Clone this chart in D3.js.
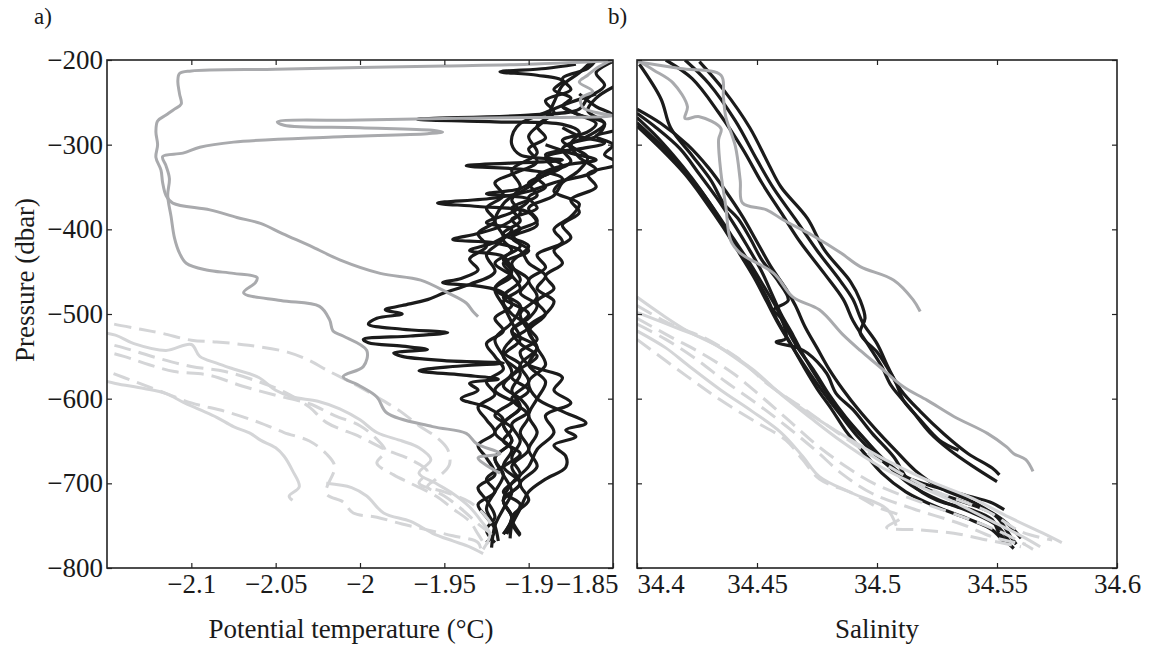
<!DOCTYPE html>
<html><head><meta charset="utf-8">
<script src="https://cdn.jsdelivr.net/npm/d3@7"></script>
<style>
body{margin:0;background:#fff;}
svg{display:block;font-family:"Liberation Serif","Times New Roman",serif;}
</style></head><body>
<svg id="chart" width="1170" height="645"></svg>
<script>
// ---------- tick values ----------
const pressureTicks = [-200,-300,-400,-500,-600,-700,-800];
const tempTicks = [-2.1,-2.05,-2,-1.95,-1.9,-1.85];
const tempTopTicks = [-2.1,-2.05,-2,-1.95,-1.9];
const salTicks = [34.4,34.45,34.5,34.55,34.6];
const salTopTicks = [34.45,34.5,34.55];

// ---------- potential temperature profiles [theta, pressure] ----------
const tempBlack = [
 [[-1.872,-205],[-1.89,-210],[-1.917,-214],[-1.895,-218],[-1.88,-225],[-1.885,-235],[-1.875,-245],[-1.88,-255],[-1.87,-265],[-1.86,-275],[-1.865,-285],[-1.88,-295],[-1.875,-305],[-1.89,-315],[-1.885,-330],[-1.9,-345],[-1.895,-360],[-1.91,-375],[-1.905,-390],[-1.915,-405],[-1.9,-420],[-1.91,-440],[-1.905,-460],[-1.915,-480],[-1.9,-500],[-1.91,-520],[-1.895,-540],[-1.905,-560],[-1.9,-580],[-1.91,-600],[-1.9,-620],[-1.905,-640],[-1.9,-660],[-1.91,-680],[-1.905,-700],[-1.915,-720],[-1.91,-740],[-1.913,-760]],
 [[-1.848,-200],[-1.86,-215],[-1.855,-230],[-1.865,-245],[-1.87,-258],[-1.9,-265],[-1.966,-270],[-1.92,-273],[-1.88,-276],[-1.87,-285],[-1.875,-300],[-1.865,-315],[-1.87,-330],[-1.88,-345],[-1.885,-360],[-1.9,-375],[-1.895,-390],[-1.91,-405],[-1.905,-420],[-1.915,-435],[-1.91,-450],[-1.92,-470],[-1.905,-490],[-1.91,-510],[-1.92,-530],[-1.915,-550],[-1.91,-570],[-1.92,-590],[-1.905,-610],[-1.915,-630],[-1.91,-650],[-1.92,-670],[-1.915,-690],[-1.92,-710],[-1.925,-730],[-1.92,-750],[-1.918,-768]],
 [[-1.86,-240],[-1.875,-250],[-1.89,-262],[-1.905,-275],[-1.909,-285],[-1.91,-300],[-1.905,-312],[-1.88,-318],[-1.937,-325],[-1.9,-330],[-1.88,-340],[-1.885,-355],[-1.87,-370],[-1.875,-385],[-1.885,-400],[-1.88,-415],[-1.895,-430],[-1.89,-445],[-1.9,-460],[-1.895,-480],[-1.905,-500],[-1.9,-520],[-1.895,-540],[-1.89,-560],[-1.9,-580],[-1.895,-600],[-1.88,-615],[-1.866,-629],[-1.878,-637],[-1.872,-645],[-1.885,-655],[-1.878,-668],[-1.878,-681],[-1.89,-695],[-1.9,-710],[-1.905,-730],[-1.91,-750],[-1.911,-765]],
 [[-1.88,-255],[-1.87,-265],[-1.855,-275],[-1.86,-290],[-1.875,-300],[-1.87,-315],[-1.86,-330],[-1.885,-345],[-1.9,-355],[-1.92,-363],[-1.954,-369],[-1.93,-373],[-1.9,-380],[-1.895,-395],[-1.91,-410],[-1.9,-425],[-1.915,-440],[-1.91,-455],[-1.92,-470],[-1.915,-490],[-1.91,-510],[-1.905,-530],[-1.915,-550],[-1.905,-570],[-1.91,-590],[-1.905,-610],[-1.915,-630],[-1.91,-650],[-1.92,-670],[-1.915,-690],[-1.91,-710],[-1.915,-730],[-1.92,-750],[-1.922,-776]],
 [[-1.848,-230],[-1.86,-245],[-1.865,-260],[-1.855,-275],[-1.865,-290],[-1.88,-305],[-1.875,-320],[-1.89,-335],[-1.9,-350],[-1.91,-365],[-1.905,-380],[-1.915,-395],[-1.93,-405],[-1.945,-412],[-1.92,-416],[-1.905,-425],[-1.9,-440],[-1.89,-455],[-1.895,-470],[-1.885,-485],[-1.89,-500],[-1.9,-515],[-1.895,-530],[-1.905,-545],[-1.9,-560],[-1.88,-575],[-1.885,-590],[-1.875,-605],[-1.89,-620],[-1.885,-640],[-1.895,-660],[-1.9,-680],[-1.91,-700],[-1.915,-720],[-1.91,-740],[-1.915,-760]],
 [[-1.86,-200],[-1.865,-210],[-1.88,-222],[-1.875,-235],[-1.89,-248],[-1.885,-262],[-1.895,-278],[-1.89,-292],[-1.9,-305],[-1.895,-320],[-1.91,-335],[-1.92,-345],[-1.915,-360],[-1.925,-375],[-1.92,-390],[-1.93,-405],[-1.925,-420],[-1.935,-435],[-1.93,-448],[-1.94,-458],[-1.951,-463],[-1.93,-467],[-1.915,-475],[-1.91,-490],[-1.92,-505],[-1.915,-520],[-1.925,-535],[-1.92,-550],[-1.915,-565],[-1.925,-580],[-1.92,-595],[-1.93,-610],[-1.925,-625],[-1.92,-640],[-1.93,-655],[-1.925,-670],[-1.92,-690],[-1.93,-705],[-1.925,-720],[-1.92,-740],[-1.925,-755],[-1.92,-770]],
 [[-1.87,-240],[-1.86,-255],[-1.85,-265],[-1.846,-280],[-1.86,-290],[-1.85,-300],[-1.855,-312],[-1.846,-322],[-1.865,-335],[-1.86,-350],[-1.875,-365],[-1.87,-380],[-1.88,-395],[-1.875,-410],[-1.885,-425],[-1.88,-440],[-1.89,-455],[-1.885,-470],[-1.895,-485],[-1.89,-500],[-1.9,-520],[-1.895,-540],[-1.9,-560],[-1.89,-580],[-1.895,-600],[-1.9,-620],[-1.895,-640],[-1.9,-660],[-1.895,-680],[-1.905,-700],[-1.9,-720],[-1.91,-740],[-1.905,-760]],
 [[-1.88,-280],[-1.87,-290],[-1.855,-298],[-1.87,-305],[-1.89,-312],[-1.88,-325],[-1.895,-340],[-1.905,-352],[-1.925,-358],[-1.9,-365],[-1.91,-380],[-1.925,-392],[-1.91,-400],[-1.92,-415],[-1.935,-425],[-1.915,-432],[-1.91,-445],[-1.9,-460],[-1.905,-475],[-1.895,-490],[-1.9,-505],[-1.91,-520],[-1.905,-535],[-1.895,-550],[-1.905,-565],[-1.915,-585],[-1.905,-600],[-1.9,-615],[-1.91,-630],[-1.905,-650],[-1.91,-670],[-1.905,-690],[-1.915,-710],[-1.905,-725],[-1.91,-745],[-1.905,-762]],
 [[-1.89,-300],[-1.875,-310],[-1.86,-318],[-1.88,-325],[-1.895,-338],[-1.89,-350],[-1.9,-362],[-1.895,-375],[-1.91,-388],[-1.905,-400],[-1.915,-412],[-1.91,-425],[-1.92,-440],[-1.91,-455],[-1.905,-470],[-1.915,-485],[-1.91,-500],[-1.9,-515],[-1.91,-530],[-1.915,-545],[-1.905,-560],[-1.91,-575],[-1.9,-590],[-1.91,-605],[-1.92,-620],[-1.91,-635],[-1.915,-650],[-1.905,-665],[-1.915,-680],[-1.925,-695],[-1.92,-710],[-1.93,-725],[-1.925,-740],[-1.92,-755],[-1.925,-770]],
 [[-1.862,-200],[-1.87,-215],[-1.88,-230],[-1.885,-250],[-1.89,-270],[-1.9,-290],[-1.895,-310],[-1.91,-330],[-1.905,-350],[-1.915,-370],[-1.92,-390],[-1.915,-410],[-1.925,-430],[-1.92,-450],[-1.935,-465],[-1.95,-475],[-1.96,-483],[-1.975,-490],[-1.985,-495],[-1.975,-500],[-1.99,-505],[-1.995,-512],[-1.975,-518],[-1.948,-522],[-1.97,-526],[-1.998,-530],[-1.995,-534],[-1.975,-538],[-1.96,-542],[-1.98,-546],[-1.975,-550],[-1.95,-555],[-1.915,-558],[-1.945,-562],[-1.965,-567],[-1.94,-572],[-1.918,-577],[-1.935,-582],[-1.93,-590],[-1.94,-600],[-1.925,-610],[-1.915,-625],[-1.92,-640],[-1.91,-660],[-1.915,-680],[-1.905,-700],[-1.915,-720],[-1.91,-740],[-1.915,-760]]
];
const tempGrey = [
 [[-1.85,-201],[-1.9,-205],[-1.95,-207],[-2.0,-209],[-2.05,-211],[-2.1,-213],[-2.107,-216],[-2.108,-225],[-2.107,-240],[-2.106,-252],[-2.11,-258],[-2.115,-265],[-2.12,-272],[-2.121,-285],[-2.12,-300],[-2.121,-315],[-2.118,-330],[-2.117,-345],[-2.115,-360],[-2.111,-369],[-2.089,-377],[-2.073,-386],[-2.059,-393],[-2.046,-405],[-2.028,-421],[-2.012,-436],[-1.988,-452],[-1.964,-460],[-1.948,-475],[-1.937,-487],[-1.933,-497],[-1.93,-503]],
 [[-1.852,-201],[-1.86,-210],[-1.865,-218],[-1.87,-226],[-1.862,-237],[-1.869,-245],[-1.868,-256],[-1.86,-262],[-1.85,-266],[-1.9,-268],[-1.95,-269],[-2.0,-271],[-2.049,-273],[-2.045,-277],[-2.0,-280],[-1.957,-283],[-1.951,-285],[-1.96,-287],[-2.016,-291],[-2.075,-297],[-2.095,-303],[-2.105,-310],[-2.117,-314],[-2.115,-325],[-2.113,-340],[-2.114,-360],[-2.112,-385],[-2.11,-410],[-2.107,-428],[-2.103,-440],[-2.091,-448],[-2.075,-452],[-2.061,-457],[-2.062,-463],[-2.069,-475],[-2.047,-484],[-2.024,-491],[-2.018,-507],[-2.016,-520],[-2.01,-526],[-1.996,-543],[-1.998,-562],[-2.01,-574],[-2.0,-585],[-1.99,-598],[-1.984,-617],[-1.957,-633],[-1.937,-641],[-1.931,-653],[-1.917,-665],[-1.93,-670],[-1.917,-688]]
];
const tempLight = [
 [[-2.16,-505],[-2.148,-511],[-2.13,-518],[-2.117,-523],[-2.1,-531],[-2.085,-533],[-2.066,-537],[-2.043,-545],[-2.03,-555],[-2.02,-566],[-2.004,-582],[-1.99,-598],[-1.976,-615],[-1.965,-632],[-1.955,-645],[-1.948,-660],[-1.947,-678],[-1.955,-695],[-1.96,-704],[-1.95,-715],[-1.94,-730],[-1.93,-748],[-1.922,-762],[-1.925,-772]],
 [[-2.16,-520],[-2.145,-525],[-2.134,-535],[-2.115,-543],[-2.1,-536],[-2.095,-550],[-2.085,-558],[-2.075,-565],[-2.06,-575],[-2.05,-590],[-2.04,-598],[-2.025,-603],[-2.012,-612],[-2.0,-625],[-1.99,-640],[-1.975,-650],[-1.965,-658],[-1.958,-672],[-1.965,-688],[-1.955,-700],[-1.945,-712],[-1.935,-728],[-1.928,-745],[-1.923,-760],[-1.927,-778]],
 [[-2.16,-540],[-2.14,-550],[-2.125,-560],[-2.11,-568],[-2.09,-572],[-2.07,-585],[-2.05,-596],[-2.03,-606],[-2.015,-620],[-2.0,-632],[-1.99,-648],[-1.985,-662],[-1.99,-676],[-1.98,-690],[-1.97,-700],[-1.955,-715],[-1.945,-730],[-1.935,-745],[-1.93,-760],[-1.925,-776]],
 [[-2.16,-575],[-2.145,-582],[-2.128,-588],[-2.115,-594],[-2.105,-604],[-2.095,-613],[-2.085,-622],[-2.075,-633],[-2.065,-641],[-2.059,-649],[-2.05,-658],[-2.045,-668],[-2.04,-685],[-2.036,-704],[-2.042,-715],[-2.04,-720]],
 [[-2.16,-560],[-2.14,-575],[-2.12,-590],[-2.1,-605],[-2.08,-615],[-2.06,-628],[-2.045,-640],[-2.03,-650],[-2.02,-665],[-2.015,-680],[-2.02,-712],[-2.01,-722],[-2.004,-735],[-1.99,-740],[-1.975,-748],[-1.96,-755],[-1.945,-762],[-1.93,-770],[-1.928,-782]],
 [[-2.02,-700],[-2.005,-705],[-1.996,-715],[-1.986,-735],[-1.97,-745],[-1.957,-759],[-1.945,-768],[-1.935,-775],[-1.927,-783]],
 [[-2.16,-530],[-2.14,-540],[-2.12,-552],[-2.1,-562],[-2.08,-568],[-2.06,-580],[-2.045,-592],[-2.03,-610],[-2.02,-628],[-2.0,-645],[-1.985,-660],[-1.97,-672],[-1.96,-686],[-1.965,-700],[-1.95,-710],[-1.935,-722],[-1.925,-740],[-1.92,-755]]
];
const tempLightDashed = [true,false,true,false,true,false,true];

// ---------- salinity profiles [salinity, pressure] ----------
const salBlack = [
 [[34.426,-202],[34.436,-235],[34.447,-280],[34.455,-324],[34.46,-350],[34.471,-387],[34.478,-424],[34.489,-462],[34.493,-484],[34.495,-505],[34.493,-523],[34.5,-545],[34.504,-562],[34.508,-582],[34.511,-602],[34.518,-625],[34.526,-649],[34.534,-661]],
 [[34.42,-200],[34.43,-228],[34.441,-272],[34.45,-318],[34.457,-352],[34.466,-388],[34.475,-425],[34.485,-462],[34.49,-483],[34.494,-510],[34.5,-535],[34.505,-565],[34.51,-590],[34.518,-615],[34.528,-642],[34.538,-665],[34.548,-682],[34.551,-690]],
 [[34.412,-200],[34.423,-222],[34.434,-262],[34.444,-305],[34.452,-345],[34.46,-380],[34.468,-415],[34.478,-452],[34.486,-483],[34.49,-508],[34.496,-535],[34.502,-562],[34.506,-585],[34.514,-612],[34.522,-640],[34.53,-660],[34.54,-680],[34.55,-698]],
 [[34.401,-205],[34.41,-246],[34.414,-280],[34.423,-313],[34.431,-343],[34.436,-369],[34.442,-387],[34.447,-410],[34.452,-436],[34.459,-462],[34.463,-484],[34.457,-495],[34.46,-505],[34.462,-529],[34.458,-533],[34.467,-540],[34.471,-546],[34.479,-570],[34.483,-594],[34.49,-613],[34.498,-641],[34.507,-669],[34.514,-700],[34.525,-720],[34.539,-731],[34.548,-743],[34.551,-759],[34.557,-777]],
 [[34.4,-258],[34.41,-275],[34.421,-300],[34.43,-328],[34.437,-355],[34.444,-385],[34.45,-415],[34.456,-445],[34.462,-470],[34.466,-490],[34.47,-515],[34.475,-540],[34.48,-565],[34.486,-590],[34.492,-612],[34.5,-638],[34.508,-662],[34.516,-685],[34.526,-705],[34.54,-722],[34.55,-740],[34.555,-760],[34.558,-772]],
 [[34.4,-263],[34.408,-280],[34.418,-305],[34.426,-335],[34.433,-362],[34.44,-392],[34.446,-420],[34.452,-450],[34.456,-475],[34.46,-500],[34.465,-525],[34.47,-552],[34.476,-580],[34.482,-605],[34.489,-630],[34.497,-655],[34.505,-680],[34.514,-702],[34.526,-720],[34.54,-735],[34.55,-750],[34.555,-768]],
 [[34.4,-268],[34.407,-287],[34.415,-312],[34.423,-340],[34.43,-368],[34.436,-395],[34.443,-425],[34.449,-455],[34.454,-480],[34.458,-505],[34.463,-530],[34.469,-560],[34.475,-588],[34.481,-612],[34.487,-638],[34.494,-662],[34.502,-688],[34.512,-710],[34.525,-728],[34.538,-742],[34.548,-755],[34.553,-770]],
 [[34.4,-274],[34.409,-298],[34.418,-325],[34.426,-352],[34.433,-380],[34.44,-410],[34.447,-440],[34.453,-468],[34.458,-492],[34.462,-515],[34.467,-540],[34.474,-568],[34.48,-595],[34.487,-622],[34.495,-648],[34.503,-672],[34.512,-692],[34.525,-705],[34.538,-715],[34.547,-722],[34.553,-731]],
 [[34.4,-278],[34.41,-305],[34.42,-335],[34.428,-365],[34.436,-398],[34.443,-430],[34.449,-458],[34.454,-485],[34.459,-512],[34.465,-540],[34.471,-566],[34.478,-594],[34.485,-620],[34.492,-645],[34.5,-668],[34.51,-690],[34.522,-708],[34.536,-722],[34.548,-735],[34.556,-752],[34.56,-765]]
];
const salGrey = [
 [[34.4,-202],[34.418,-210],[34.435,-218],[34.436,-244],[34.437,-267],[34.441,-302],[34.443,-342],[34.444,-369],[34.454,-377],[34.461,-389],[34.473,-407],[34.485,-428],[34.493,-444],[34.507,-460],[34.515,-483],[34.518,-497]],
 [[34.4,-200],[34.407,-212],[34.415,-227],[34.421,-255],[34.42,-269],[34.426,-267],[34.435,-281],[34.434,-294],[34.435,-334],[34.437,-373],[34.439,-413],[34.443,-428],[34.457,-452],[34.465,-480],[34.476,-495],[34.486,-525],[34.493,-543],[34.501,-562],[34.511,-586],[34.521,-602],[34.532,-621],[34.546,-641],[34.554,-657],[34.557,-665],[34.562,-672],[34.565,-686]]
];
const salLight = [
 [[34.4,-490],[34.414,-512],[34.428,-528],[34.442,-552],[34.455,-584],[34.469,-611],[34.483,-639],[34.497,-666],[34.511,-690],[34.525,-710],[34.546,-733],[34.56,-757],[34.573,-767]],
 [[34.4,-480],[34.41,-500],[34.421,-520],[34.435,-540],[34.448,-565],[34.46,-595],[34.472,-622],[34.485,-650],[34.5,-678],[34.515,-700],[34.532,-722],[34.548,-745],[34.562,-765],[34.568,-775]],
 [[34.4,-505],[34.414,-527],[34.426,-545],[34.44,-570],[34.452,-598],[34.463,-625],[34.475,-655],[34.488,-682],[34.5,-702],[34.518,-722],[34.538,-742],[34.555,-762],[34.565,-778]],
 [[34.4,-520],[34.412,-540],[34.421,-560],[34.435,-590],[34.448,-615],[34.46,-640],[34.469,-668],[34.476,-692],[34.49,-712],[34.504,-730],[34.508,-750]],
 [[34.4,-530],[34.421,-574],[34.435,-602],[34.448,-625],[34.462,-649],[34.469,-672],[34.476,-695],[34.49,-712],[34.5,-728],[34.51,-740],[34.504,-752],[34.518,-755],[34.532,-759],[34.546,-767],[34.56,-775]],
 [[34.4,-498],[34.418,-518],[34.43,-532],[34.445,-560],[34.458,-590],[34.472,-618],[34.487,-645],[34.502,-670],[34.52,-695],[34.54,-718],[34.555,-740],[34.57,-760],[34.577,-770]],
 [[34.4,-512],[34.412,-530],[34.424,-552],[34.437,-580],[34.45,-606],[34.462,-632],[34.474,-660],[34.486,-690],[34.498,-712],[34.515,-730],[34.535,-748],[34.55,-765],[34.562,-772]]
];
const salLightDashed = [true,false,true,false,true,false,true];

// ---------- drawing ----------
const svg = d3.select("#chart");
const COL_BLACK = "#1b1b1b", COL_GREY = "#a9aaad", COL_LIGHT = "#d4d5d7";
const FONT = '"Liberation Serif","Times New Roman",serif';
const y = d3.scaleLinear().domain([-800,-200]).range([568,60]);
const xT = d3.scaleLinear().domain([-2.15,-1.85]).range([107,613]);
const xS = d3.scaleLinear().domain([34.4,34.6]).range([637,1117]);
const fmt = d => String(d).replace("-", "\u2212");

function drawPanel(id, x, black, light, lightDashed, grey) {
  const [x0, x1] = x.range();
  svg.append("clipPath").attr("id", id).append("rect")
    .attr("x", x0).attr("y", 60).attr("width", x1 - x0).attr("height", 508);
  const g = svg.append("g").attr("clip-path", `url(#${id})`);
  const line = d3.line().x(d => x(d[0])).y(d => y(d[1])).curve(d3.curveCatmullRom.alpha(0.5));
  const style = sel => sel.attr("fill","none")
    .attr("stroke-linejoin","round").attr("stroke-linecap","butt");
  g.selectAll("path.blk").data(black).join("path").attr("class","blk")
    .attr("d", line).attr("stroke", COL_BLACK).attr("stroke-width",3.2).call(style);
  g.selectAll("path.lt").data(light).join("path").attr("class","lt")
    .attr("d", line).attr("stroke", COL_LIGHT).attr("stroke-width",3).call(style)
    .attr("stroke-dasharray", (d,i) => lightDashed[i] ? "17,8" : null);
  g.selectAll("path.gr").data(grey).join("path").attr("class","gr")
    .attr("d", line).attr("stroke", COL_GREY).attr("stroke-width",3).call(style);
  svg.append("rect").attr("x", x0).attr("y", 60).attr("width", x1 - x0).attr("height", 508)
    .attr("fill","none").attr("stroke","#222").attr("stroke-width",1.6);
}

function styleAxis(g) {
  g.select(".domain").remove();
  g.attr("font-family", FONT).attr("font-size", 27);
  g.selectAll(".tick line").attr("stroke","#222").attr("stroke-width",1.2);
  g.selectAll(".tick text").attr("fill","#1a1a1a");
}

drawPanel("clipT", xT, tempBlack, tempLight, tempLightDashed, tempGrey);
drawPanel("clipS", xS, salBlack, salLight, salLightDashed, salGrey);

// left panel axes
const axB1 = svg.append("g").attr("transform","translate(0,568)")
  .call(d3.axisBottom(xT).tickValues(tempTicks).tickSizeInner(-5).tickSizeOuter(0).tickPadding(6).tickFormat(fmt));
styleAxis(axB1);
axB1.selectAll(".tick").filter(d => d === -1.85).select("text").attr("text-anchor","end").attr("x", 5);
svg.append("g").attr("transform","translate(0,60)")
  .call(d3.axisTop(xT).tickValues(tempTopTicks).tickSizeInner(-5).tickSizeOuter(0).tickFormat("")).call(styleAxis);
const axL = svg.append("g").attr("transform","translate(107,0)")
  .call(d3.axisLeft(y).tickValues(pressureTicks).tickSizeInner(-5).tickSizeOuter(0).tickPadding(4).tickFormat(fmt));
styleAxis(axL);
svg.append("g").attr("transform","translate(613,0)")
  .call(d3.axisRight(y).tickValues(pressureTicks).tickSizeInner(-5).tickSizeOuter(0).tickFormat("")).call(styleAxis);

// right panel axes
const axB2 = svg.append("g").attr("transform","translate(0,568)")
  .call(d3.axisBottom(xS).tickValues(salTicks).tickSizeInner(-5).tickSizeOuter(0).tickPadding(6).tickFormat(d => d3.format("~f")(d)));
styleAxis(axB2);
axB2.selectAll(".tick").filter(d => d === 34.4).select("text").attr("text-anchor","start").attr("x", 0);
svg.append("g").attr("transform","translate(0,60)")
  .call(d3.axisTop(xS).tickValues(salTopTicks).tickSizeInner(-5).tickSizeOuter(0).tickFormat("")).call(styleAxis);
svg.append("g").attr("transform","translate(637,0)")
  .call(d3.axisLeft(y).tickValues(pressureTicks).tickSizeInner(-5).tickSizeOuter(0).tickFormat("")).call(styleAxis);
svg.append("g").attr("transform","translate(1117,0)")
  .call(d3.axisRight(y).tickValues(pressureTicks).tickSizeInner(-5).tickSizeOuter(0).tickFormat("")).call(styleAxis);

// titles
const txt = (x, yy, s, size, anchor) => svg.append("text").attr("x", x).attr("y", yy)
  .attr("font-family", FONT).attr("font-size", size).attr("fill","#1a1a1a")
  .attr("text-anchor", anchor || "middle").text(s);
txt(351, 638, "Potential temperature (\u00B0C)", 27);
txt(877, 638, "Salinity", 27);
txt(34, 24, "a)", 23, "start");
txt(608, 24, "b)", 23, "start");
svg.append("text").attr("transform","translate(34,280) rotate(-90)")
  .attr("font-family", FONT).attr("font-size", 27).attr("fill","#1a1a1a")
  .attr("text-anchor","middle").text("Pressure (dbar)");
</script>
</body></html>
